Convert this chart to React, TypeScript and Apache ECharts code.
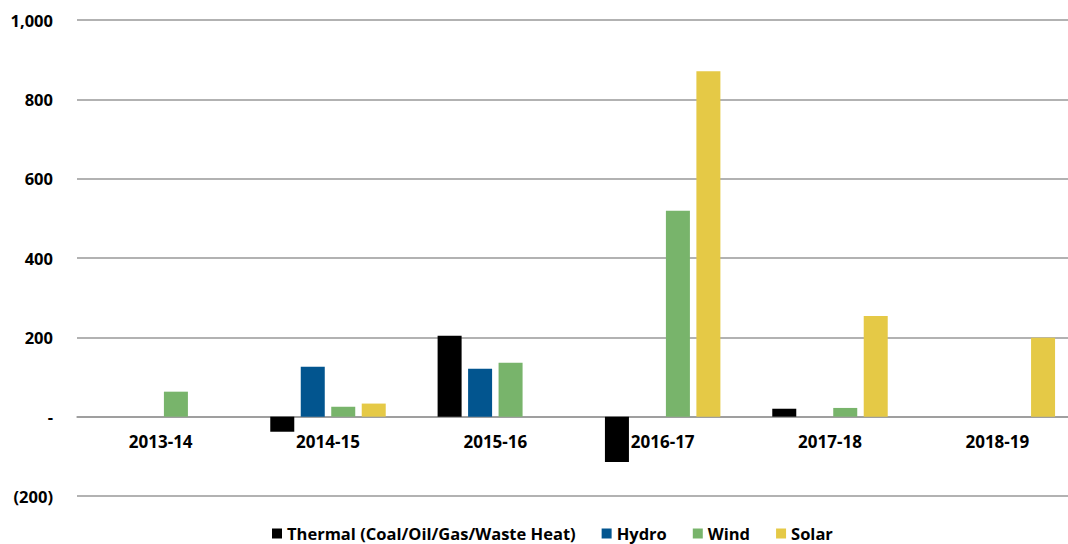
import React, { useEffect, useRef } from "react";
import * as echarts from "echarts";

const categories = ["2013-14", "2014-15", "2015-16", "2016-17", "2017-18", "2018-19"];
const thermal = [0, -38, 204, -114, 20, 0];
const hydro = [0, 126, 121, 0, 0, 0];
const wind = [63, 25, 136, 519, 22, 0];
const solar = [0, 33, 0, 871, 254, 199];
const yTicks = { min: -200, max: 1000, interval: 200 };

const FONT = "'Open Sans', Lato, sans-serif";

function fmt(v: number): string {
  if (v === 0) return "-";
  const s = Math.abs(v).toLocaleString("en-US");
  return v < 0 ? `(${s})` : s;
}

export default function App() {
  const ref = useRef<HTMLDivElement>(null);
  useEffect(() => {
    if (!ref.current) return;
    const chart = echarts.init(ref.current, undefined, { renderer: "svg" });
    const mk = (name: string, data: number[], color: string) => ({
      name,
      type: "bar" as const,
      data,
      barGap: "27%",
      barCategoryGap: "31%",
      itemStyle: { color },
    });
    const gridTop = 20;
    const gridH = 476;
    const zeroOffset = -(gridH * (0 - yTicks.min)) / (yTicks.max - yTicks.min);
    chart.setOption({
      animation: false,
      textStyle: { fontFamily: FONT },
      grid: { left: 77, top: gridTop, height: gridH, width: 1004, outerBoundsMode: "none", containLabel: false },
      legend: {
        bottom: -3,
        left: 267,
        itemWidth: 10,
        itemHeight: 10,
        itemGap: 26,
        icon: "rect",
        textStyle: { fontFamily: FONT, fontWeight: "bold", fontSize: 16.5, color: "#000" },
        data: ["Thermal (Coal/Oil/Gas/Waste Heat)", "Hydro", "Wind", "Solar"],
      },
      xAxis: {
        type: "category",
        data: categories,
        offset: zeroOffset,
        axisLine: { onZero: false, lineStyle: { color: "#999", width: 1.5 } },
        axisTick: { show: false },
        axisLabel: { fontFamily: FONT, fontWeight: "bold", fontSize: 17, color: "#000", margin: 16 },
      },
      yAxis: {
        type: "value",
        min: yTicks.min,
        max: yTicks.max,
        interval: yTicks.interval,
        axisLine: { show: false },
        axisTick: { show: false },
        splitLine: { lineStyle: { color: "#999", width: 1.5 } },
        axisLabel: {
          fontFamily: FONT,
          fontWeight: "bold",
          fontSize: 16.5,
          color: "#000",
          margin: 24,
          formatter: (v: number) => fmt(v),
        },
      },
      series: [
        mk("Thermal (Coal/Oil/Gas/Waste Heat)", thermal, "#000000"),
        mk("Hydro", hydro, "#02558f"),
        mk("Wind", wind, "#78b46b"),
        mk("Solar", solar, "#e5c946"),
      ],
    });
    return () => chart.dispose();
  }, []);
  return (
    <div
      ref={ref}
      style={{ position: "absolute", left: 0, top: 0, width: 1068, height: 544, background: "#fff" }}
    />
  );
}
